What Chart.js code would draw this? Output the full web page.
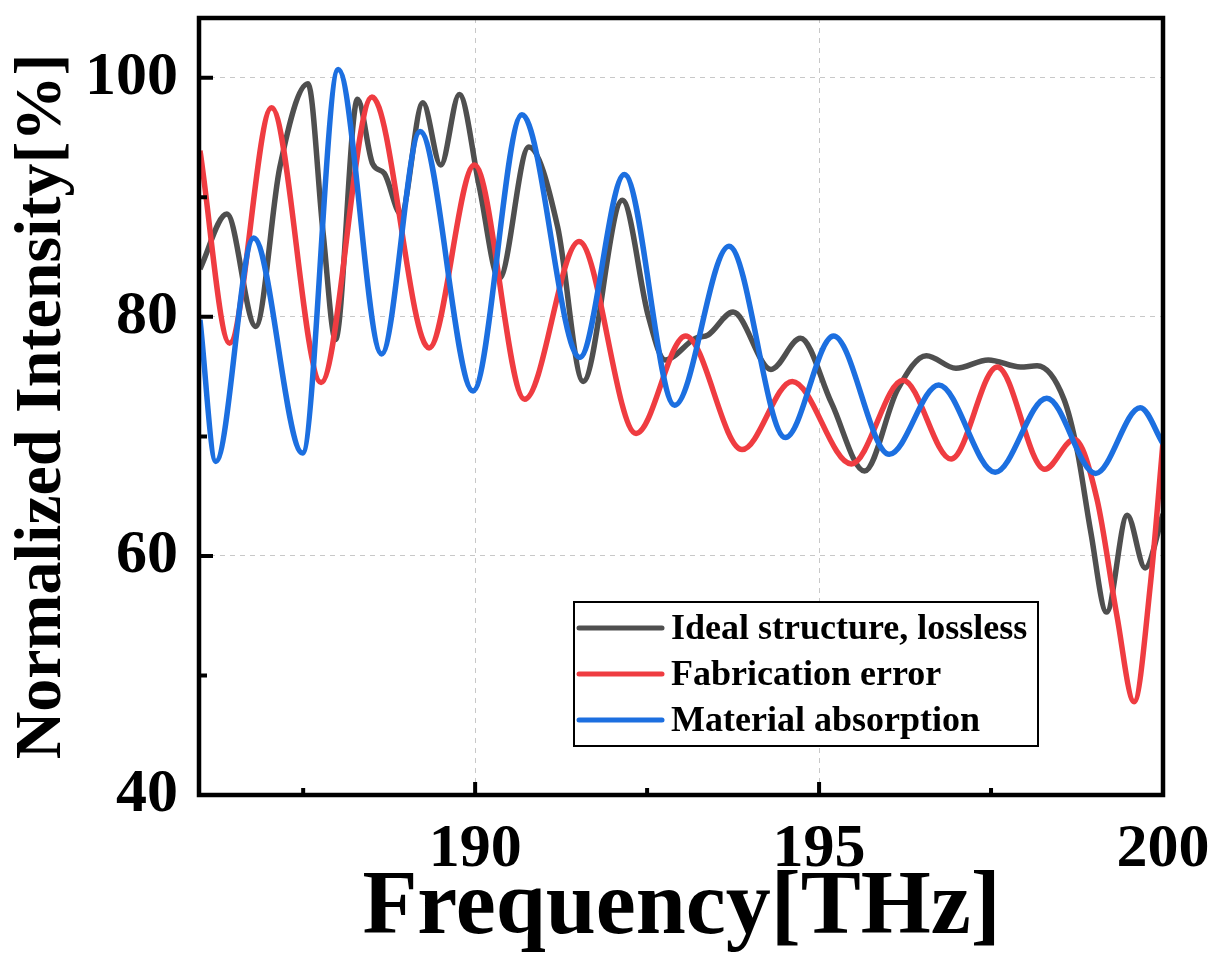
<!DOCTYPE html>
<html>
	<head>
		<meta charset="UTF-8">
		<title>Normalized Intensity</title>
		<style type="text/css">
			body{
				margin: 0;
				background: #fff;
			}
			#box{
				width: 1226px;
				height: 970px;
			}
		</style>
	</head>
	<body>
		<div id="box"><canvas id="myChart"></canvas></div>
	</body>
	<script src="https://cdn.jsdelivr.net/npm/chart.js@4.4.1/dist/chart.umd.min.js"></script>
	<script>
		// values (peaks / troughs and a few shoulders)
		var idealFreq = [186.0, 186.39, 186.81, 187.16, 187.57, 187.79, 187.97, 188.29, 188.51, 188.68, 188.92, 189.24, 189.50, 189.77, 190.06, 190.35, 190.78, 191.2, 191.57, 192.14, 192.52, 192.76, 193.2, 193.39, 193.75, 194.30, 194.73, 195.18, 195.66, 196.14, 196.56, 196.99, 197.46, 197.93, 198.17, 198.56, 198.75, 198.95, 199.18, 199.48, 199.74, 200.0];
		var idealVal  = [84.0, 88.6, 79.2, 92.5, 99.5, 87.0, 78.1, 98.2, 92.8, 92.0, 88.6, 97.9, 92.7, 98.6, 90.9, 83.2, 94.2, 87.5, 74.6, 89.75, 80.0, 76.4, 78.2, 78.5, 80.4, 75.6, 78.2, 72.8, 67.1, 73.9, 76.75, 75.7, 76.4, 75.8, 75.9, 73.1, 68.9, 62.0, 55.3, 63.4, 59.0, 63.5];

		var fabFreq = [186.0, 186.43, 187.04, 187.76, 188.50, 189.33, 189.99, 190.72, 191.51, 192.34, 193.06, 193.88, 194.61, 195.47, 196.22, 196.92, 197.59, 198.28, 198.71, 199.04, 199.33, 199.58, 199.82, 200.0];
		var fabVal  = [93.9, 77.8, 97.5, 74.5, 98.4, 77.4, 92.7, 73.1, 86.3, 70.25, 78.4, 68.9, 74.6, 67.7, 74.7, 68.1, 75.8, 67.25, 69.75, 64.75, 55.0, 47.8, 57.8, 69.5];

		var absFreq = [186.0, 186.23, 186.78, 187.49, 188.01, 188.64, 189.20, 189.97, 190.68, 191.52, 192.17, 192.90, 193.69, 194.51, 195.21, 196.02, 196.74, 197.56, 198.31, 199.02, 199.67, 200.0];
		var absVal  = [79.75, 67.9, 86.6, 68.6, 100.7, 76.9, 95.5, 73.8, 96.9, 76.6, 91.9, 72.6, 85.9, 69.9, 78.4, 68.5, 74.3, 67.0, 73.2, 66.9, 72.4, 69.4];

		var seriesNames = ['Ideal structure, lossless', 'Fabrication error', 'Material absorption'];
		var seriesColors = ['#4f4f4f', '#ef3c41', '#1c6fe0'];

		var xTicks = [190, 195, 200];
		var xMinor = [187.5, 192.5, 197.5];
		var yTicks = [40, 60, 80, 100];
		var yMinor = [50, 70, 90];

		function pts(xs, ys){
			var out = [];
			for(var i = 0; i < xs.length; i++){
				out.push({x: xs[i], y: ys[i]});
			}
			return out;
		}

		var serif = "'Liberation Serif', 'Times New Roman', serif";

		// frame, inward ticks and the boxed legend
		var framePlugin = {
			id: 'frame',
			afterDraw: function(chart){
				var ctx = chart.ctx;
				var a = chart.chartArea;
				var xs = chart.scales.x, ys = chart.scales.y;
				ctx.save();
				ctx.strokeStyle = '#000';
				ctx.lineWidth = 4;
				ctx.beginPath();
				xTicks.forEach(function(v){
					var p = xs.getPixelForValue(v);
					ctx.moveTo(p, a.bottom); ctx.lineTo(p, a.bottom - 13);
				});
				xMinor.forEach(function(v){
					var p = xs.getPixelForValue(v);
					ctx.moveTo(p, a.bottom); ctx.lineTo(p, a.bottom - 7);
				});
				yTicks.forEach(function(v){
					var p = ys.getPixelForValue(v);
					ctx.moveTo(a.left, p); ctx.lineTo(a.left + 13, p);
				});
				yMinor.forEach(function(v){
					var p = ys.getPixelForValue(v);
					ctx.moveTo(a.left, p); ctx.lineTo(a.left + 7, p);
				});
				ctx.stroke();
				ctx.lineWidth = 4.5;
				ctx.strokeRect(a.left - 1, a.top, a.right - a.left + 1, a.bottom - a.top);

				// legend
				var lx = 574, ly = 602, lw = 464, lh = 144;
				ctx.fillStyle = '#fff';
				ctx.fillRect(lx, ly, lw, lh);
				ctx.lineWidth = 2;
				ctx.strokeRect(lx, ly, lw, lh);
				ctx.font = 'bold 36px ' + serif;
				ctx.textBaseline = 'middle';
				ctx.lineCap = 'round';
				for(var i = 0; i < seriesNames.length; i++){
					var cy = ly + 26 + i * 46;
					ctx.strokeStyle = seriesColors[i];
					ctx.lineWidth = 5;
					ctx.beginPath();
					ctx.moveTo(lx + 5, cy); ctx.lineTo(lx + 88, cy);
					ctx.stroke();
					ctx.fillStyle = '#000';
					ctx.fillText(seriesNames[i], lx + 97, cy + 2);
				}
				ctx.restore();
			}
		};

		function lineSet(i, xs, ys, order){
			return {
				label: seriesNames[i],
				data: pts(xs, ys),
				borderColor: seriesColors[i],
				backgroundColor: seriesColors[i],
				borderWidth: 5.5,
				pointRadius: 0,
				cubicInterpolationMode: 'monotone',
				order: order
			};
		}

		var ctx = document.getElementById('myChart').getContext('2d');
		var chart = new Chart(ctx, {
			type: 'line',
			data: {
				datasets: [
					lineSet(0, idealFreq, idealVal, 3),
					lineSet(1, fabFreq, fabVal, 2),
					lineSet(2, absFreq, absVal, 1)
				]
			},
			plugins: [framePlugin],
			options: {
				responsive: true,
				maintainAspectRatio: false,
				animation: false,
				layout: {padding: {top: 18, right: 63, left: 0, bottom: 0}},
				plugins: {
					legend: {display: false},
					tooltip: {enabled: false}
				},
				scales: {
					x: {
						type: 'linear',
						min: 186,
						max: 200,
						afterBuildTicks: function(s){
							s.ticks = xTicks.map(function(v){ return {value: v}; });
						},
						afterFit: function(s){
							s.height = 175;
							s.paddingLeft = 0; s.paddingRight = 0;
						},
						grid: {
							color: '#c8c8c8',
							lineWidth: 1,
							drawTicks: false
						},
						border: {display: false, dash: [5, 5]},
						ticks: {
							padding: 18,
							maxRotation: 0,
							color: '#000',
							font: {family: serif, weight: 'bold', size: 62}
						},
						title: {
							display: true,
							text: 'Frequency[THz]',
							color: '#000',
							font: {family: serif, weight: 'bold', size: 90, lineHeight: 1},
							padding: {top: 0, bottom: 15}
						}
					},
					y: {
						min: 40,
						max: 105,
						afterBuildTicks: function(s){
							s.ticks = yTicks.map(function(v){ return {value: v}; });
						},
						afterFit: function(s){
							s.width = 200;
							s.paddingTop = 0; s.paddingBottom = 0;
						},
						grid: {
							color: '#c8c8c8',
							lineWidth: 1,
							drawTicks: false
						},
						border: {display: false, dash: [5, 5]},
						ticks: {
							padding: 22,
							color: '#000',
							font: {family: serif, weight: 'bold', size: 62}
						},
						title: {
							display: true,
							text: 'Normalized Intensity[%]',
							color: '#000',
							font: {family: serif, weight: 'bold', size: 66, lineHeight: 1},
							padding: {top: 10, bottom: 0}
						}
					}
				}
			}
		});
	</script>
</html>
